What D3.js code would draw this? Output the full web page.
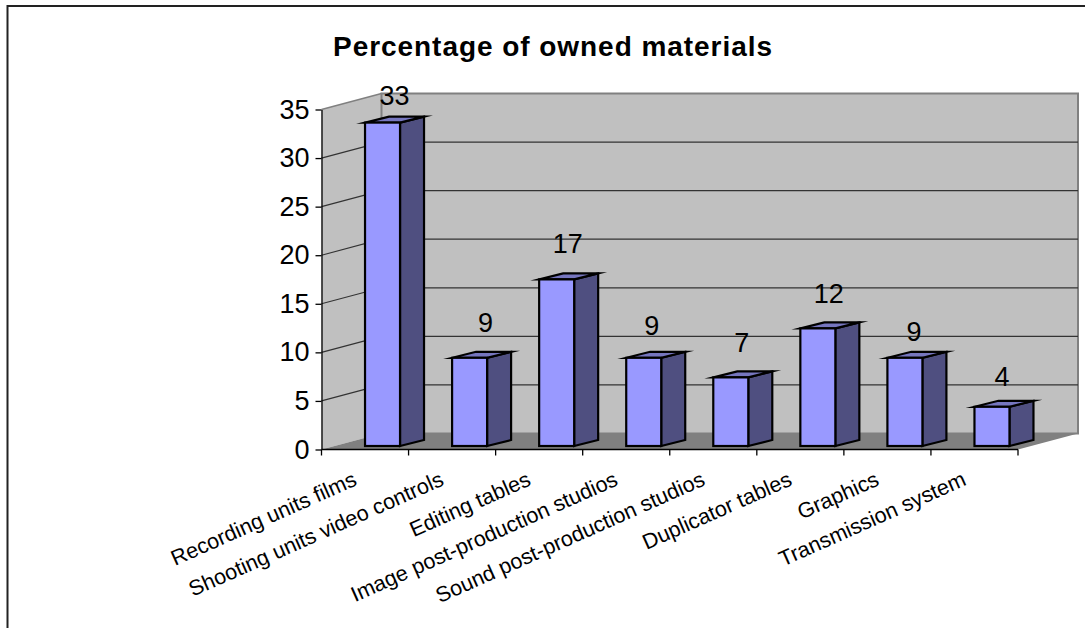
<!DOCTYPE html>
<html><head><meta charset="utf-8">
<script src="https://cdn.jsdelivr.net/npm/d3@7"></script>
<style>html,body{margin:0;background:#fff}svg{display:block}text{font-family:"Liberation Sans",Arial,sans-serif;fill:#000}</style>
</head><body><script>
const categories=["Recording units films","Shooting units video controls","Editing tables","Image post-production studios","Sound post-production studios","Duplicator tables","Graphics","Transmission system"];
const values=[33,9,17,9,7,12,9,4];
const yTicks=[0,5,10,15,20,25,30,35];
const title="Percentage of owned materials";
const W=1085,H=628;
const svg=d3.select("body").append("svg").attr("width",W).attr("height",H);
const x=d3.scaleBand().domain(categories).range([321.5,1018]);
const y=d3.scaleLinear().domain([0,35]).range([449.5,109.5]);
const yBar=d3.scaleLinear().domain([0,35]).range([446,103]);
const dx=60,dy=-16,bdx=24,bdy=-6,barW=35,barShift=17.5;
const labelGap=[18,26,26,23,25,25,17,21],labelShift=[12,16,11,8,11,11,9,10];
const poly=p=>p.map(d=>d.join(",")).join(" ");
svg.append("path").attr("d",`M7.5,${H}V6H${W}`).attr("fill","none").attr("stroke","#222").attr("stroke-width",2);
svg.append("text").attr("x",553).attr("y",55.5).attr("text-anchor","middle").attr("font-weight","bold").attr("font-size",28).attr("letter-spacing",0.95).text(title);
const x0=x.range()[0],x1=x.range()[1];
// walls & floor
svg.append("polygon").attr("points",poly([[x0,y(0)],[x0+dx,y(0)+dy],[x0+dx,y(35)+dy],[x0,y(35)]])).attr("fill","#c0c0c0");
svg.append("polygon").attr("points",poly([[x0+dx,y(0)+dy],[x1+dx,y(0)+dy],[x1+dx,y(35)+dy],[x0+dx,y(35)+dy]])).attr("fill","#c0c0c0").attr("stroke","#808080").attr("stroke-width",2);
svg.append("polygon").attr("points",poly([[x0,y(0)],[x1,y(0)],[x1+dx,y(0)+dy],[x0+dx,y(0)+dy]])).attr("fill","#808080");
svg.append("line").attr("x1",x0).attr("y1",y(35)).attr("x2",x0+dx).attr("y2",y(35)+dy).attr("stroke","#808080").attr("stroke-width",1.5);
// grid
const g=svg.append("g").attr("stroke","#333").attr("stroke-width",1.2).attr("fill","none");
yTicks.slice(1,-1).forEach(t=>{
  g.append("path").attr("d",`M${x0},${y(t)}L${x0+dx},${y(t)+dy}H${x1+dx}`);
});
// axes
const ya=svg.append("g").attr("transform",`translate(${x0},0)`).call(d3.axisLeft(y).tickValues(yTicks).tickSize(6).tickSizeOuter(0).tickPadding(6));
ya.selectAll("text").attr("font-size",27).style("font-family",'"Liberation Sans",Arial,sans-serif');
ya.selectAll("path,line").attr("stroke","#000").attr("stroke-width",1.3);
const bounds=d3.range(categories.length+1).map(i=>x0+i*x.step());
svg.append("line").attr("x1",x0).attr("y1",y(0)).attr("x2",x1).attr("y2",y(0)).attr("stroke","#000").attr("stroke-width",1.3);
svg.append("g").selectAll("line").data(bounds).join("line").attr("x1",d=>d).attr("x2",d=>d).attr("y1",y(0)).attr("y2",y(0)+6).attr("stroke","#000").attr("stroke-width",1.3);
// bars
const bars=svg.append("g").selectAll("g").data(categories).join("g").attr("stroke","#000").attr("stroke-width",2.2).attr("stroke-linejoin","miter").attr("stroke-miterlimit",10);
bars.each(function(c,i){
  const G=d3.select(this),l=x(c)+x.bandwidth()/2+barShift-barW/2,r=l+barW,t=yBar(values[i]),b=yBar(0);
  G.append("polygon").attr("points",poly([[r,b],[r+bdx,b+bdy],[r+bdx,t+bdy],[r,t]])).attr("fill","#4f4f80");
  G.append("polygon").attr("points",poly([[l,t],[r,t],[r+bdx,t+bdy],[l+bdx,t+bdy]])).attr("fill","#7676bf");
  G.append("rect").attr("x",l).attr("y",t).attr("width",barW).attr("height",b-t).attr("fill","#9999ff");
});
// data labels
svg.append("g").selectAll("text").data(categories).join("text").attr("text-anchor","middle").attr("font-size",27)
 .attr("x",(d,i)=>x(d)+x.bandwidth()/2+barShift+labelShift[i]).attr("y",(d,i)=>yBar(values[i])-labelGap[i]).text((d,i)=>values[i]);
// category labels
svg.append("g").selectAll("text").data(categories).join("text").attr("text-anchor","end").attr("font-size",21.6)
 .attr("transform",d=>`translate(${x(d)+x.bandwidth()/2-7},${y(0)+35}) rotate(-24)`).text(d=>d);
</script></body></html>
